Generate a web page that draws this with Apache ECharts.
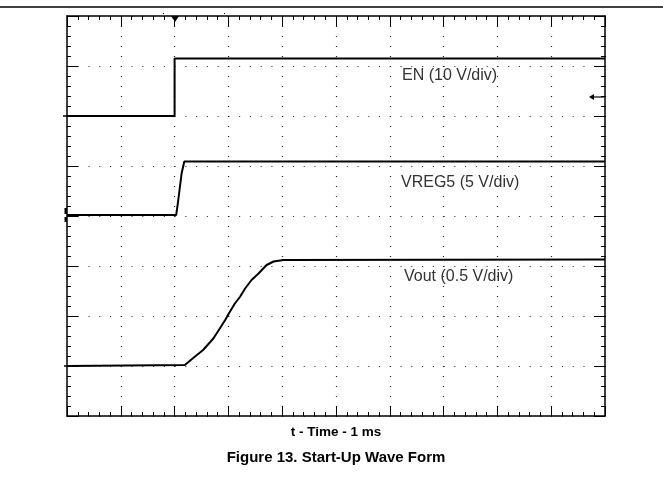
<!DOCTYPE html>
<html>
<head>
<meta charset="utf-8">
<script src="https://cdn.jsdelivr.net/npm/echarts@6/dist/echarts.min.js"></script>
<style>
  html, body { margin: 0; padding: 0; background: #fff; }
  #chart { width: 663px; height: 484px; }
</style>
</head>
<body>
<div id="chart"></div>
<script>
// Time axis in divisions (1 ms/div), vertical axis in screen divisions (0 = bottom, 8 = top)
const enTime = [0, 2.0, 2.0, 10];
const enLevel = [6.0, 6.0, 7.15, 7.15];

const vregTime = [0, 2.03, 2.06, 2.13, 2.18, 10];
const vregLevel = [4.02, 4.02, 4.25, 4.85, 5.09, 5.09];

const voutTime = [0, 2.19, 2.38, 2.53, 2.72, 2.84, 2.94, 3.03, 3.12, 3.22, 3.31, 3.43, 3.56, 3.71, 3.84, 4.02, 10];
const voutLevel = [1.0, 1.02, 1.19, 1.32, 1.55, 1.75, 1.92, 2.09, 2.25, 2.39, 2.55, 2.72, 2.85, 3.02, 3.09, 3.12, 3.13];

const traceLabels = ['EN (10 V/div)', 'VREG5 (5 V/div)', 'Vout (0.5 V/div)'];
const axisTitle = 't - Time - 1 ms';
const figureCaption = 'Figure 13. Start-Up Wave Form';

function pairs(t, v) { return t.map((x, i) => [x, v[i]]); }

const chart = echarts.init(document.getElementById('chart'), null, { renderer: 'canvas' });

const FONT = '"Liberation Sans", Arial, Helvetica, sans-serif';

function xAx(pos, grid) {
  return {
    type: 'value', position: pos, min: 0, max: 10, interval: 1,
    axisLine: { show: true, onZero: false, lineStyle: { color: '#000', width: 1.5 } },
    axisTick: { show: true, inside: true, length: 10, lineStyle: { color: '#000', width: 1 } },
    minorTick: { show: true, splitNumber: 5, length: 4, lineStyle: { color: '#000', width: 1 } },
    axisLabel: { show: false },
    splitLine: { show: grid, lineStyle: { color: '#222', width: 1.2, type: [1, 9] } },
    minorSplitLine: { show: false }
  };
}
function yAx(pos, grid) {
  return {
    type: 'value', position: pos, min: 0, max: 8, interval: 1,
    axisLine: { show: true, onZero: false, lineStyle: { color: '#000', width: 1.5 } },
    axisTick: { show: true, inside: true, length: 11, lineStyle: { color: '#000', width: 1 } },
    minorTick: { show: true, splitNumber: 5, length: 4, lineStyle: { color: '#000', width: 1 } },
    axisLabel: { show: false },
    splitLine: { show: grid, lineStyle: { color: '#222', width: 1.2, type: [1, 9.76] } },
    minorSplitLine: { show: false }
  };
}

function trace(name, t, v) {
  return {
    name: name, type: 'line', data: pairs(t, v), showSymbol: false, symbol: 'none',
    xAxisIndex: 0, yAxisIndex: 0,
    lineStyle: { color: '#000', width: 2 }, animation: false, z: 5
  };
}

const option = {
  animation: false,
  backgroundColor: '#fff',
  grid: { left: 67, top: 16, width: 538, height: 400, containLabel: false },
  xAxis: [xAx('bottom', true), xAx('top', false)],
  yAxis: [yAx('left', true), yAx('right', false)],
  series: [
    trace('EN', enTime, enLevel),
    trace('VREG5', vregTime, vregLevel),
    trace('Vout', voutTime, voutLevel)
  ],
  graphic: [
    { type: 'line', shape: { x1: 0, y1: 7, x2: 663, y2: 7 }, style: { stroke: '#000', lineWidth: 1.5 } },
    // trigger position marker
    { type: 'polygon', shape: { points: [[171, 16], [179, 16], [175, 22]] }, style: { fill: '#000' }, z: 10 },
    // trigger level arrow
    { type: 'line', shape: { x1: 592, y1: 97, x2: 604, y2: 97 }, style: { stroke: '#000', lineWidth: 1.2 }, z: 10 },
    { type: 'polygon', shape: { points: [[589, 97], [594, 94], [594, 100]] }, style: { fill: '#000' }, z: 10 },
    // channel ground markers
    { type: 'line', shape: { x1: 63, y1: 116, x2: 68, y2: 116 }, style: { stroke: '#000', lineWidth: 1.5 }, z: 10 },
    { type: 'rect', shape: { x: 64.5, y: 208, width: 2.5, height: 6 }, style: { fill: '#000' }, z: 10 },
    { type: 'rect', shape: { x: 64.5, y: 217, width: 2.5, height: 5 }, style: { fill: '#000' }, z: 10 },
    { type: 'line', shape: { x1: 64, y1: 366, x2: 68, y2: 366 }, style: { stroke: '#000', lineWidth: 1.5 }, z: 10 },
    { type: 'rect', shape: { x: 163, y: 13, width: 1, height: 1 }, style: { fill: '#000' } },
    { type: 'rect', shape: { x: 224, y: 13, width: 1, height: 1 }, style: { fill: '#000' } },
    // trace labels
    { type: 'text', left: 402, top: 68, style: { text: traceLabels[0], font: '16px ' + FONT, fill: '#333' }, z: 10 },
    { type: 'text', left: 401, top: 175, style: { text: traceLabels[1], font: '16px ' + FONT, fill: '#333' }, z: 10 },
    { type: 'text', left: 404, top: 269, style: { text: traceLabels[2], font: '16px ' + FONT, fill: '#333' }, z: 10 },
    // axis title and figure caption
    { type: 'text', x: 336, y: 432, style: { text: axisTitle, font: 'bold 13.5px ' + FONT, fill: '#000', textAlign: 'center', textVerticalAlign: 'middle' } },
    { type: 'text', x: 336, y: 458, style: { text: figureCaption, font: 'bold 15px ' + FONT, fill: '#000', textAlign: 'center', textVerticalAlign: 'middle' } }
  ]
};
chart.setOption(option);
</script>
</body>
</html>
